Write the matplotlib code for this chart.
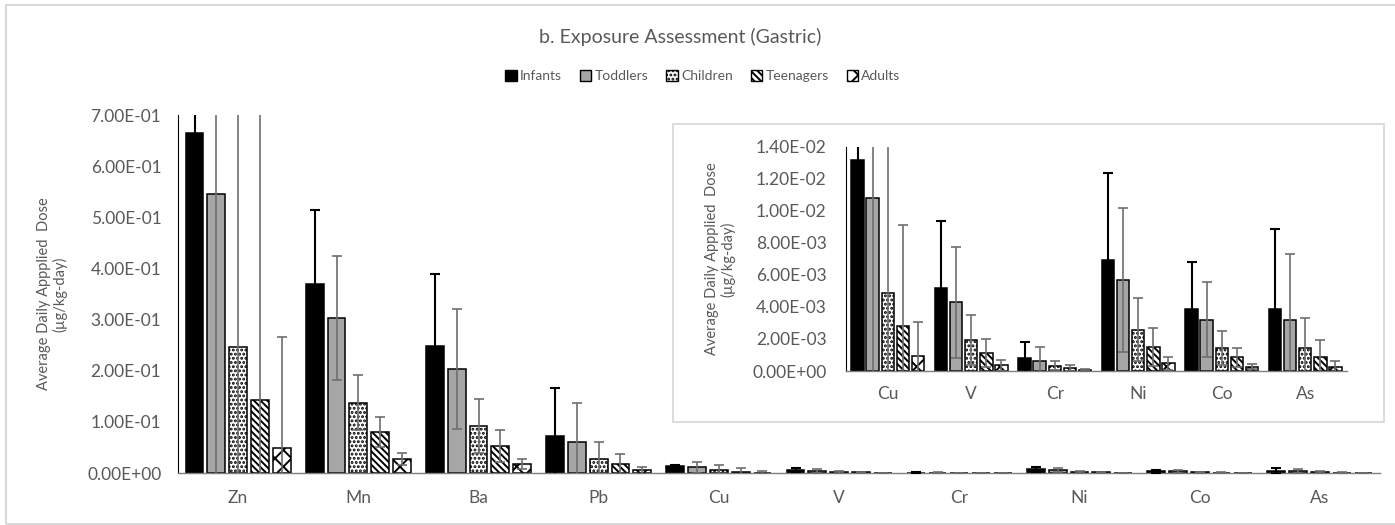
import numpy as np
import matplotlib
matplotlib.use("Agg")
import matplotlib.pyplot as plt
from matplotlib.patches import Rectangle, Patch

plt.rcParams['font.family'] = ['Lato', 'DejaVu Sans']
plt.rcParams['hatch.linewidth'] = 1.4

# ---- data -------------------------------------------------------------
groups = ["Infants", "Toddlers", "Children", "Teenagers", "Adults"]

main_elements = ["Zn", "Mn", "Ba", "Pb", "Cu", "V", "Cr", "Ni", "Co", "As"]
inset_elements = ["Cu", "V", "Cr", "Ni", "Co", "As"]

# mean dose per element, one list per age group (µg/kg-day)
infants = [0.664, 0.370, 0.248, 0.072, 1.317e-2, 5.20e-3, 8.1e-4, 6.91e-3, 3.85e-3, 3.85e-3]
toddlers = [0.546, 0.303, 0.203, 0.060, 1.082e-2, 4.28e-3, 6.4e-4, 5.68e-3, 3.20e-3, 3.20e-3]
children = [0.246, 0.1375, 0.092, 0.027, 4.89e-3, 1.93e-3, 3.3e-4, 2.58e-3, 1.46e-3, 1.46e-3]
teenagers = [0.142, 0.080, 0.053, 0.017, 2.83e-3, 1.12e-3, 1.7e-4, 1.50e-3, 8.5e-4, 8.5e-4]
adults = [0.048, 0.027, 0.018, 0.005, 9.6e-4, 3.7e-4, 6e-5, 4.8e-4, 2.7e-4, 2.7e-4]

# standard deviations
infants_sd = [0.110, 0.145, 0.141, 0.094, 1.50e-3, 4.18e-3, 1.00e-3, 5.47e-3, 2.93e-3, 5.03e-3]
toddlers_sd = [0.600, 0.121, 0.117, 0.077, 1.10e-2, 3.44e-3, 8.6e-4, 4.49e-3, 2.35e-3, 4.12e-3]
children_sd = [0.500, 0.0535, 0.052, 0.034, 1.00e-2, 1.54e-3, 2.9e-4, 1.95e-3, 1.06e-3, 1.85e-3]
teenagers_sd = [0.600, 0.030, 0.031, 0.0196, 6.26e-3, 9.0e-4, 1.8e-4, 1.16e-3, 5.9e-4, 1.08e-3]
adults_sd = [0.218, 0.0115, 0.010, 0.006, 2.08e-3, 3.4e-4, 4e-5, 4.1e-4, 1.7e-4, 3.7e-4]

main_ticks = [0.0, 0.1, 0.2, 0.3, 0.4, 0.5, 0.6, 0.7]
inset_ticks = [0.0, 0.002, 0.004, 0.006, 0.008, 0.010, 0.012, 0.014]

# ---- styling ----------------------------------------------------------
means = [infants, toddlers, children, teenagers, adults]
sds = [infants_sd, toddlers_sd, children_sd, teenagers_sd, adults_sd]
faces = ["black", "#a6a6a6", "white", "white", "white"]
hatches = [None, None, "....", "\\\\\\\\\\", "xx"]
err_colors = ["black", "#6e6e6e", "#6e6e6e", "#6e6e6e", "#6e6e6e"]
err_lw = [1.5, 1.2, 1.2, 1.2, 1.2]
text_gray = "#595959"

W, H = 1395, 525
fig = plt.figure(figsize=(W / 100, H / 100), dpi=100)


def fx(px):
    return px / W


def fy(py):
    return 1 - py / H


# chart border
fig.patches.append(Rectangle((fx(5.5), fy(524)), 2, fy(5) - fy(524),
                             transform=fig.transFigure, fill=False,
                             edgecolor="#d9d9d9", lw=1.5, zorder=0))


def draw_bars(ax, labels, idx):
    x = np.arange(len(labels))
    pitch, width = 0.181, 0.148
    for k in range(5):
        vals = np.array([means[k][i] for i in idx])
        errs = np.array([sds[k][i] for i in idx])
        ax.bar(x + (k - 2) * pitch, vals, width, color=faces[k],
               edgecolor="black", linewidth=1.1, hatch=hatches[k],
               zorder=2, label=groups[k])
        ax.errorbar(x + (k - 2) * pitch, vals, yerr=errs, fmt="none",
                    ecolor=err_colors[k], elinewidth=err_lw[k],
                    capsize=3.5, capthick=err_lw[k], zorder=3)
    ax.set_xticks(x)
    ax.set_xticklabels(labels)
    ax.set_xlim(-0.5, len(labels) - 0.5)
    for s in ("top", "right"):
        ax.spines[s].set_visible(False)
    ax.spines["left"].set_color("black")
    ax.spines["left"].set_linewidth(0.8)
    ax.spines["bottom"].set_color("#7f7f7f")
    ax.spines["bottom"].set_linewidth(1.0)
    ax.tick_params(length=0, colors=text_gray, labelsize=12.5)
    ax.tick_params(axis="y", pad=12)


# main axes
ax = fig.add_axes([fx(178), fy(473), fx(1380) - fx(178), fy(115) - fy(473)])
draw_bars(ax, main_elements, list(range(10)))
ax.set_ylim(0, 0.7)
ax.set_yticks(main_ticks)
ax.set_yticklabels([f"{v:.2E}" for v in main_ticks])
ax.tick_params(axis="x", pad=12)

fig.text(fx(52), fy(294), "Average Daily Appplied  Dose\n(µg/kg-day)",
         rotation=90, ha="center", va="center", color=text_gray,
         fontsize=10.5, linespacing=1.1)

# inset frame
fig.patches.append(Rectangle((fx(673), fy(422)), fx(1384) - fx(673),
                             fy(124) - fy(422), transform=fig.transFigure,
                             facecolor="white", edgecolor="#d9d9d9",
                             lw=1.3, zorder=1))

# inset axes
axi = fig.add_axes([fx(846), fy(371), fx(1347) - fx(846), fy(146.7) - fy(371)],
                   zorder=2)
axi.patch.set_alpha(0)
draw_bars(axi, inset_elements, [4, 5, 6, 7, 8, 9])
axi.set_ylim(0, 0.014)
axi.set_yticks(inset_ticks)
axi.set_yticklabels([f"{v:.2E}" for v in inset_ticks])
axi.tick_params(axis="y", pad=14)
axi.tick_params(axis="x", pad=11)

fig.text(fx(720), fy(259), "Average Daily Appplied  Dose\n(µg/kg-day)",
         rotation=90, ha="center", va="center", color=text_gray,
         fontsize=10.5, linespacing=1.1)

# title and legend
fig.text(fx(680), fy(37), "b. Exposure Assessment (Gastric)", ha="center",
         va="center", color=text_gray, fontsize=14)

handles = [Patch(facecolor=faces[k], edgecolor="black", hatch=hatches[k],
                 linewidth=1.0) for k in range(5)]
fig.legend(handles, groups, loc="center", bbox_to_anchor=(fx(703), fy(76)),
           ncol=5, frameon=False, fontsize=10, handlelength=0.8,
           handleheight=0.8, handletextpad=0.25, columnspacing=1.3,
           labelcolor=text_gray)

fig.savefig("out.png", dpi=100)
